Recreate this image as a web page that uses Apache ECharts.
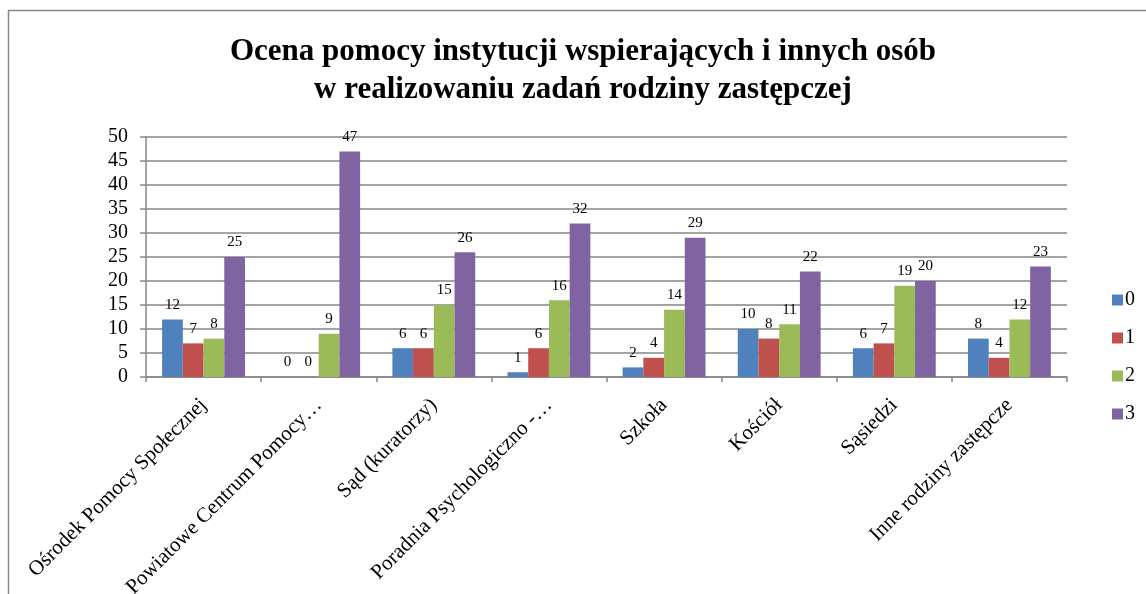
<!DOCTYPE html>
<html>
<head>
<meta charset="utf-8">
<script src="https://cdn.jsdelivr.net/npm/echarts@6/dist/echarts.min.js"></script>
<style>
  html, body { margin: 0; padding: 0; background: #fff; }
  #chart { width: 1146px; height: 594px; }
</style>
</head>
<body>
<div id="chart"></div>
<script>
const categories = [
  'Ośrodek Pomocy Społecznej',
  'Powiatowe Centrum Pomocy…',
  'Sąd (kuratorzy)',
  'Poradnia Psychologiczno -…',
  'Szkoła',
  'Kościół',
  'Sąsiedzi',
  'Inne rodziny zastępcze'
]
const seriesNames = ['0', '1', '2', '3']
const values0 = [12, 0, 6, 1, 2, 10, 6, 8]
const values1 = [7, 0, 6, 6, 4, 8, 7, 4]
const values2 = [8, 9, 15, 16, 14, 11, 19, 12]
const values3 = [25, 47, 26, 32, 29, 22, 20, 23]
const colors = ['#4F81BD', '#C0504D', '#9BBB59', '#8064A2']

const font = '"Liberation Serif", "Times New Roman", serif'
const allValues = [values0, values1, values2, values3]

const chart = echarts.init(document.getElementById('chart'))
chart.setOption({
  animation: false,
  color: colors,
  textStyle: { fontFamily: font },
  graphic: [
    {
      type: 'rect',
      shape: { x: 8.5, y: 10.5, width: 1160, height: 600 },
      style: { fill: 'none', stroke: '#868686', lineWidth: 1.5 }
    }
  ],
  title: {
    text: 'Ocena pomocy instytucji wspierających i innych osób\nw realizowaniu zadań rodziny zastępczej',
    left: 578,
    textAlign: 'center',
    top: 28,
    textStyle: {
      fontFamily: font,
      fontSize: 31,
      fontWeight: 'bold',
      color: '#000',
      lineHeight: 38
    }
  },
  legend: {
    orient: 'vertical',
    left: 1107,
    top: 285,
    itemWidth: 11,
    itemHeight: 11,
    itemGap: 18,
    icon: 'rect',
    textStyle: { fontFamily: font, fontSize: 20, color: '#000', padding: [0, 0, 0, -3] },
    data: seriesNames
  },
  grid: {
    left: 146,
    right: 79,
    top: 137,
    bottom: 217,
    containLabel: false,
    outerBoundsMode: 'none'
  },
  xAxis: {
    type: 'category',
    data: categories,
    axisLine: { lineStyle: { color: '#868686', width: 1.5 } },
    axisTick: { show: true, length: 5, lineStyle: { color: '#868686', width: 1.5 } },
    axisLabel: {
      rotate: 45,
      interval: 0,
      fontFamily: font,
      fontSize: 21,
      color: '#000',
      margin: 25
    }
  },
  yAxis: {
    type: 'value',
    min: 0,
    max: 50,
    interval: 5,
    axisLine: { show: true, lineStyle: { color: '#868686', width: 1.5 } },
    axisTick: { show: true, length: 6, lineStyle: { color: '#868686', width: 1.5 } },
    splitLine: { lineStyle: { color: '#868686', width: 1.5 } },
    axisLabel: { fontFamily: font, fontSize: 20, color: '#000', margin: 18 }
  },
  series: seriesNames.map((name, i) => ({
    name: name,
    type: 'bar',
    data: allValues[i],
    barGap: '0%',
    barCategoryGap: '28%',
    label: {
      show: true,
      position: 'top',
      distance: 7,
      fontFamily: font,
      fontSize: 15,
      color: '#000'
    }
  }))
})
</script>
</body>
</html>
